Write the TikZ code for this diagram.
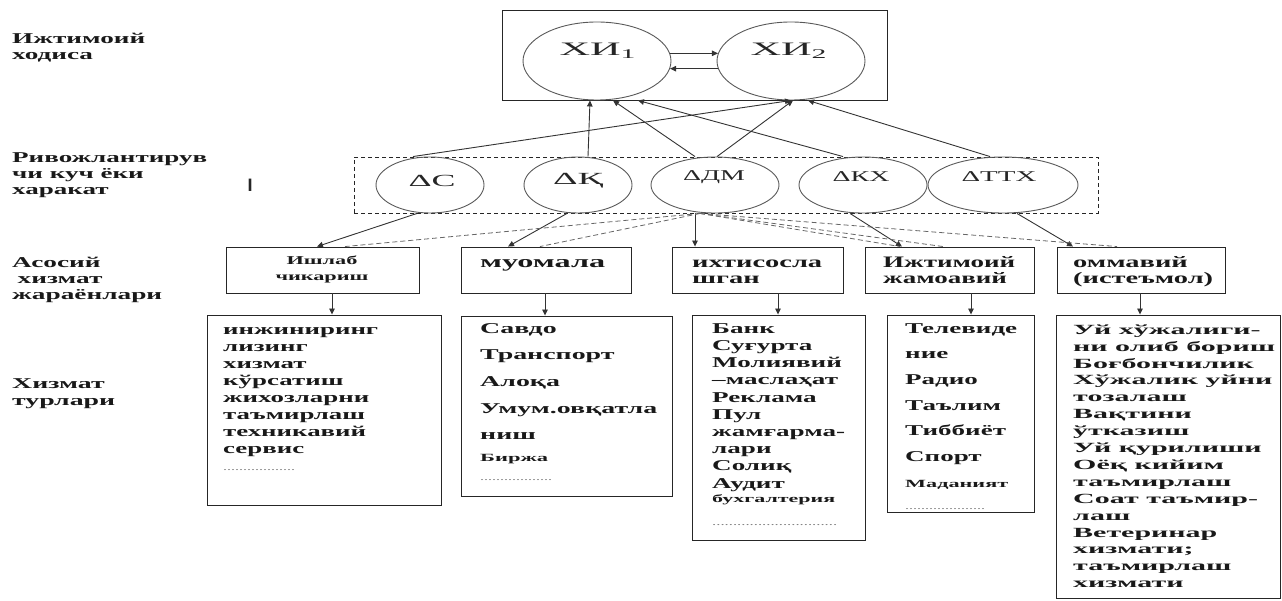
\documentclass[tikz,border=0pt]{standalone}
\usepackage{fontspec}
\usepackage{graphicx}
\setmainfont{Liberation Serif}
\newfontfamily\barfont{Liberation Sans}
\usetikzlibrary{shapes.geometric,arrows.meta,calc}
\newcommand\fitw[2]{\resizebox{#1}{\height}{#2}}
\begin{document}
\begin{tikzpicture}[x=1pt,y=-1pt,
  frame/.style={draw=black!85, line width=0.9pt, rectangle, inner sep=0pt},
  dframe/.style={draw=black!85, line width=0.9pt, rectangle, inner sep=0pt, dash pattern=on 4pt off 3pt},
  oval/.style={draw=black!65, ellipse, inner sep=0pt, line width=0.9pt},
  blk/.style={inner sep=0pt, anchor=north west, text=black!90},
  cblk/.style={inner sep=0pt, anchor=north, text=black!90},
  bl/.style={inner sep=0pt, anchor=base west, text=black!90},
  dots/.style={inner sep=0pt, anchor=base west, text=black!55},
  otxt/.style={inner sep=0pt, text=black!85},
  arr/.style={draw=black!80, line width=0.9pt, -{Triangle[length=6pt,width=5.5pt]}},
  dsh/.style={draw=black!60, line width=0.8pt, dash pattern=on 5pt off 3pt},
]
\useasboundingbox (0,0) rectangle (1282,601);

% left labels
\node[blk] (lab1) at (12,31.8) {\fitw{133pt}{\fontsize{15}{16}\selectfont\bfseries\begin{tabular}[t]{@{}l@{}}Ижтимоий\\ходиса\end{tabular}}};
\node[blk] (lab2) at (12,150.8) {\fitw{195pt}{\fontsize{15}{16}\selectfont\bfseries\begin{tabular}[t]{@{}l@{}}Ривожлантирув\\чи куч ёки\\харакат\end{tabular}}};
\node[blk] (lab3) at (12,255.8) {\fitw{150pt}{\fontsize{15}{16}\selectfont\bfseries\begin{tabular}[t]{@{}l@{}}Асосий\\\hspace*{3pt}хизмат\\жараёнлари\end{tabular}}};
\node[blk] (lab4) at (12,376.1) {\fitw{103pt}{\fontsize{15}{17}\selectfont\bfseries\begin{tabular}[t]{@{}l@{}}Хизмат\\турлари\end{tabular}}};
\node[otxt] (bar) at (250,185) {\barfont\bfseries\fontsize{18}{20}\selectfont I};

% top level
\node[frame, minimum width=385pt, minimum height=90pt] (top) at (694.5,55) {};
\node[oval, minimum width=148pt, minimum height=78pt] (X1) at (597,61) {};
\node[oval, minimum width=148pt, minimum height=78pt] (X2) at (791,61) {};
\node[otxt] (X1t) at (598,51) {\fitw{77pt}{\fontsize{19}{22}\selectfont ХИ\textsubscript{1}}};
\node[otxt] (X2t) at (789,51) {\fitw{77pt}{\fontsize{19}{22}\selectfont ХИ\textsubscript{2}}};
\draw[arr] (X1.6) -- (X2.174);
\draw[arr] (X2.186) -- (X1.-6);

% driving forces
\node[dframe, minimum width=744pt, minimum height=56pt] (dbox) at (726,185) {};
\node[oval, minimum width=108pt, minimum height=56pt] (C) at (430,185) {};
\node[oval, minimum width=108pt, minimum height=56pt] (K) at (578,185) {};
\node[oval, minimum width=128pt, minimum height=56pt] (DM) at (715,185) {};
\node[oval, minimum width=128pt, minimum height=56pt] (KX) at (863,185) {};
\node[oval, minimum width=150pt, minimum height=56pt] (TTX) at (1003,185) {};
\node[otxt] (Ct) at (432,181) {\fitw{47pt}{\fontsize{17}{20}\selectfont ΔС}};
\node[otxt] (Kt) at (578,181) {\fitw{50pt}{\fontsize{17}{20}\selectfont ΔҚ}};
\node[otxt] (DMt) at (714,177) {\fitw{62pt}{\fontsize{15}{16}\selectfont ΔДМ}};
\node[otxt] (KXt) at (861,177) {\fitw{57pt}{\fontsize{15}{16}\selectfont ΔКХ}};
\node[otxt] (TTXt) at (999,177) {\fitw{75pt}{\fontsize{15}{16}\selectfont ΔТТХ}};

% arrows up to top
\draw[arr] ($(C.north)+(-17,0)$) -- ($(X2.south)+(0,0)$);
\draw[arr] ($(K.north)+(10,0)$) -- ($(X1.south)+(-7,0)$);
\draw[arr] ($(DM.north)+(-20,0)$) -- ($(X1.south)+(16,0)$);
\draw[arr] ($(DM.north)+(2,0)$) -- ($(X2.south)+(2,0)$);
\draw[arr] ($(KX.north)+(-20,0)$) -- ($(X1.south)+(41,0)$);
\draw[arr] ($(TTX.north)+(-13,0)$) -- ($(X2.south)+(17,0)$);

% categories
\node[frame, minimum width=193pt, minimum height=46pt] (cat1) at (322.5,270) {};
\node[frame, minimum width=170pt, minimum height=46pt] (cat2) at (546,270) {};
\node[frame, minimum width=171pt, minimum height=46pt] (cat3) at (757.5,270) {};
\node[frame, minimum width=169pt, minimum height=46pt] (cat4) at (949.5,270) {};
\node[frame, minimum width=168pt, minimum height=46pt] (cat5) at (1141,270) {};
\node[cblk] (cat1t) at (322,253.5) {\fitw{93pt}{\fontsize{12}{16}\selectfont\bfseries\begin{tabular}[t]{@{}c@{}}Ишлаб\\чикариш\end{tabular}}};
\node[blk] (cat2t) at (480,255.8) {\fitw{125pt}{\fontsize{17}{16}\selectfont\bfseries\begin{tabular}[t]{@{}l@{}}муомала\end{tabular}}};
\node[blk] (cat3t) at (692,255.8) {\fitw{130pt}{\fontsize{16}{16}\selectfont\bfseries\begin{tabular}[t]{@{}l@{}}ихтисосла\\шган\end{tabular}}};
\node[blk] (cat4t) at (883,255.8) {\fitw{132pt}{\fontsize{16}{16}\selectfont\bfseries\begin{tabular}[t]{@{}l@{}}Ижтимоий\\жамоавий\end{tabular}}};
\node[blk] (cat5t) at (1073,255.8) {\fitw{140pt}{\fontsize{16}{16}\selectfont\bfseries\begin{tabular}[t]{@{}l@{}}оммавий\\(истеъмол)\end{tabular}}};

% arrows down to categories
\draw[arr] ($(C.south)+(-13,0)$) -- ($(cat1.north)+(-5.5,0)$);
\draw[arr] ($(K.south)+(-11,0)$) -- ($(cat2.north)+(-38,0)$);
\draw[arr] ($(DM.south)+(-20,0)$) -- ($(cat3.north)+(-62.5,0)$);
\draw[arr] ($(KX.south)+(-13,0)$) -- ($(cat4.north)+(-47.5,0)$);
\draw[arr] ($(TTX.south)+(14,0)$) -- ($(cat5.north)+(-68,0)$);
\draw[dsh] ($(DM.south)+(-15,0)$) -- ($(cat1.north)+(22.5,0)$);
\draw[dsh] ($(DM.south)+(-15,0)$) -- ($(cat2.north)+(-6,0)$);
\draw[dsh] ($(DM.south)+(-15,0)$) -- ($(cat4.north)+(-49.5,0)$);
\draw[dsh] ($(DM.south)+(-15,0)$) -- ($(cat4.north)+(-6.5,0)$);
\draw[dsh] ($(DM.south)+(-15,0)$) -- ($(cat5.north)+(-24,0)$);

% service types
\node[frame, minimum width=234pt, minimum height=190pt] (B1) at (324,410) {};
\node[frame, minimum width=211pt, minimum height=180pt] (B2) at (566.5,406) {};
\node[frame, minimum width=173pt, minimum height=225pt] (B3) at (778.5,427.5) {};
\node[frame, minimum width=147pt, minimum height=197pt] (B4) at (960.5,413.5) {};
\node[frame, minimum width=224pt, minimum height=283pt] (B5) at (1168,456.5) {};

\draw[arr] ($(cat1.south)+(9.5,0)$) -- ($(B1.north)+(8,0)$);
\draw[arr] ($(cat2.south)+(-1,0)$) -- ($(B2.north)+(-21.5,0)$);
\draw[arr] ($(cat3.south)+(20.5,0)$) -- ($(B3.north)+(-0.5,0)$);
\draw[arr] ($(cat4.south)+(21.5,0)$) -- ($(B4.north)+(10.5,0)$);
\draw[arr] ($(cat5.south)+(-1,0)$) -- ($(B5.north)+(-28,0)$);

\node[blk] (B1t) at (223,322.1) {\fitw{155pt}{\fontsize{15}{17}\selectfont\bfseries\begin{tabular}[t]{@{}l@{}}инжиниринг\\лизинг\\хизмат\\кўрсатиш\\жихозларни\\таъмирлаш\\техникавий\\сервис\end{tabular}}};
\node[dots] (B1d) at (223,470) {\fitw{72pt}{\fontsize{9}{10}\selectfont ..................}};

\node[blk] (B2t) at (480,314.3) {\fitw{177pt}{\fontsize{15}{26.7}\selectfont\bfseries\begin{tabular}[t]{@{}l@{}}Савдо\\Транспорт\\Алоқа\\Умум.овқатла\\ниш\end{tabular}}};
\node[bl] (B2s) at (480,461) {\fitw{68pt}{\fontsize{11}{12}\selectfont\bfseries Биржа}};
\node[dots] (B2d) at (480,480) {\fitw{72pt}{\fontsize{9}{10}\selectfont ..................}};

\node[blk] (B3t) at (712,321) {\fitw{133pt}{\fontsize{15}{17.2}\selectfont\bfseries\begin{tabular}[t]{@{}l@{}}Банк\\Суғурта\\Молиявий\\–маслаҳат\\Реклама\\Пул\\жамғарма-\\лари\\Солиқ\\Аудит\end{tabular}}};
\node[bl] (B3s) at (712,502) {\fitw{123pt}{\fontsize{11}{12}\selectfont\bfseries бухгалтерия}};
\node[dots] (B3d) at (712,525) {\fitw{125pt}{\fontsize{9}{10}\selectfont ..............................}};

\node[blk] (B4t) at (905,315) {\fitw{112pt}{\fontsize{15}{25.7}\selectfont\bfseries\begin{tabular}[t]{@{}l@{}}Телевиде\\ние\\Радио\\Таълим\\Тиббиёт\\Спорт\end{tabular}}};
\node[bl] (B4s) at (905,487) {\fitw{103pt}{\fontsize{11}{12}\selectfont\bfseries Маданият}};
\node[dots] (B4d) at (905,509) {\fitw{80pt}{\fontsize{9}{10}\selectfont ....................}};

\node[blk] (B5t) at (1073,322.2) {\fitw{202pt}{\fontsize{14}{16.9}\selectfont\bfseries\begin{tabular}[t]{@{}l@{}}Уй хўжалиги-\\ни олиб бориш\\Боғбончилик\\Хўжалик уйни\\тозалаш\\Вақтини\\ўтказиш\\Уй қурилиши\\Оёқ кийим\\таъмирлаш\\Соат таъмир-\\лаш\\Ветеринар\\хизмати;\\таъмирлаш\\хизмати\end{tabular}}};
\end{tikzpicture}
\end{document}
